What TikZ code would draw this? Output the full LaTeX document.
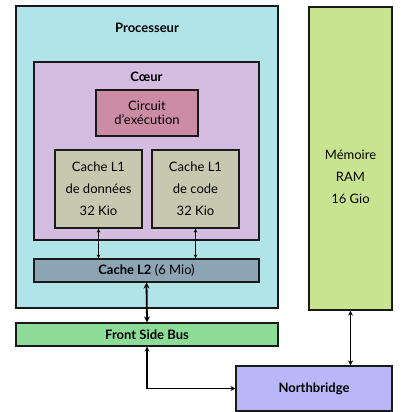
\documentclass[tikz,border=0pt]{standalone}
\usepackage{fontspec}
\setmainfont{Lato}[Ligatures=NoCommon]
\usetikzlibrary{arrows.meta}
\definecolor{cproc}{HTML}{B0E4E8}
\definecolor{ccoeur}{HTML}{D4BCE0}
\definecolor{ccirc}{HTML}{CC8CA4}
\definecolor{ccache}{HTML}{C8C8B0}
\definecolor{cltwo}{HTML}{8CA4B4}
\definecolor{cfsb}{HTML}{8CDC98}
\definecolor{cnb}{HTML}{B8B8F8}
\definecolor{cram}{HTML}{C8E490}
\tikzset{
  box/.style={draw=black!90, line width=1.1pt, inner sep=0pt, rectangle},
  lbl/.style={inner sep=0pt, font=\fontsize{13}{15}\selectfont},
  thin arrow/.style={line width=0.6pt, {Stealth[length=4pt,width=3.5pt]}-{Stealth[length=4pt,width=3.5pt]}},
  thick arrow/.style={line width=1.8pt, {Stealth[length=6pt,width=6pt]}-{Stealth[length=6pt,width=6pt]}},
  mid arrow/.style={line width=1.2pt, {Stealth[length=5pt,width=5pt]}-{Stealth[length=5pt,width=5pt]}},
}
\begin{document}
\begin{tikzpicture}[x=1pt,y=-1pt]
\useasboundingbox (0,0) rectangle (401,412);
% Processor
\node[box, fill=cproc, minimum width=262, minimum height=302] (proc) at (147,157) {};
\node[lbl, font=\fontsize{13}{15}\selectfont\bfseries] (proclbl) at (147,28) {Processeur};
% Core
\node[box, fill=ccoeur, minimum width=225, minimum height=178] (coeur) at (146.5,151) {};
\node[lbl, font=\fontsize{13}{15}\selectfont\bfseries] (coeurlbl) at (146.5,77) {Cœur};
\node[box, fill=ccirc, minimum width=102, minimum height=46, align=center, font=\fontsize{13}{14}\selectfont] (circ) at (147,113) {Circuit\\d'exécution};
\node[box, fill=ccache, minimum width=87, minimum height=78, align=center, font=\fontsize{13}{22}\selectfont] (lod) at (98.5,189) {Cache L1\\de données\\32 Kio};
\node[box, fill=ccache, minimum width=87, minimum height=78, align=center, font=\fontsize{13}{22}\selectfont] (loc) at (195.5,189) {Cache L1\\de code\\32 Kio};
% L2
\node[box, fill=cltwo, minimum width=225, minimum height=23, font=\fontsize{13}{15}\selectfont] (ltwo) at (146.5,270.5) {\textbf{Cache L2} (6 Mio)};
% FSB
\node[box, fill=cfsb, minimum width=262, minimum height=23, font=\fontsize{13}{15}\selectfont\bfseries] (fsb) at (147,334.5) {Front Side Bus};
% Northbridge
\node[box, fill=cnb, minimum width=156, minimum height=45, font=\fontsize{13}{15}\selectfont\bfseries] (nb) at (314,388.5) {Northbridge};
% RAM
\node[box, fill=cram, minimum width=83, minimum height=303] (ram) at (350.5,158.5) {};
\node[lbl, align=center, font=\fontsize{13}{22}\selectfont] (ramlbl) at (350.5,177) {Mémoire\\RAM\\16 Gio};
% Connectors
\draw[thin arrow] (lod.south) -- (lod.south |- ltwo.north);
\draw[thin arrow] (loc.south) -- (loc.south |- ltwo.north);
\draw[thick arrow] (ltwo.south) -- (fsb.north);
\draw[mid arrow] (fsb.south) |- (nb.west);
\draw[mid arrow] (ram.south) -- (ram.south |- nb.north);
\end{tikzpicture}
\end{document}
